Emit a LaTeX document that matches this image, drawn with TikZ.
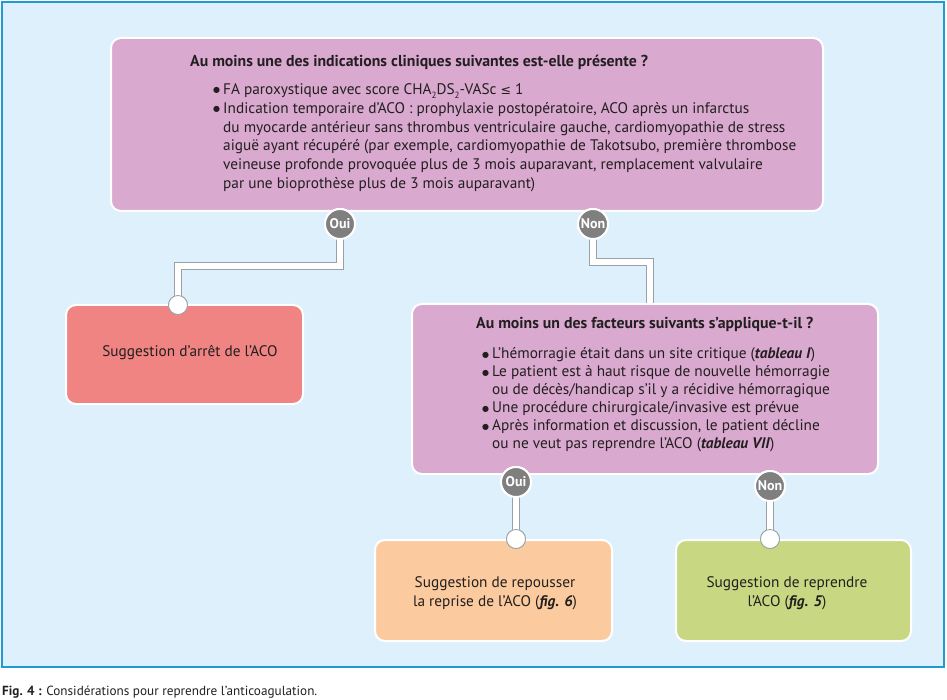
\documentclass[tikz,border=0pt]{standalone}
\usepackage{fontspec}
\setmainfont{PT Sans}
\newfontfamily\symfont{DejaVu Sans}
\usetikzlibrary{calc}
\definecolor{bgblue}{HTML}{DEF0FC}
\definecolor{frameblue}{HTML}{1E9BD7}
\definecolor{purp}{HTML}{D9A9CF}
\definecolor{redbox}{HTML}{F08482}
\definecolor{orangebox}{HTML}{FBCB9F}
\definecolor{greenbox}{HTML}{C8D882}
\definecolor{circgray}{HTML}{7F7F7F}
\definecolor{conngray}{HTML}{9AA0A6}
\definecolor{txt}{HTML}{231F20}
\newcommand{\bul}{\makebox[10pt][l]{\raisebox{1.6pt}{\symfont\fontsize{8}{8}\selectfont ●}}}
\newcommand{\ind}{\hspace*{10pt}}
\newcommand{\sub}[1]{\raisebox{-3.5pt}{\fontsize{9}{9}\selectfont #1}}
\begin{document}
\begin{tikzpicture}[x=1pt,y=-1pt,
  box/.style={draw=white, line width=2pt, rounded corners=10pt, anchor=north west, inner sep=0pt},
  body/.style={font=\fontsize{15.3}{18.8}\selectfont, text=txt, inner sep=0pt},
  ttl/.style={font=\fontsize{15.8}{18}\selectfont\bfseries, text=txt, inner sep=0pt, anchor=base west},
  yn/.style={circle, fill=circgray, draw=white, line width=2pt, minimum size=30pt, inner sep=0pt, text=white, font=\fontsize{14}{14}\selectfont\bfseries},
  endc/.style={circle, fill=white, draw=conngray, line width=0.8pt, minimum size=19pt, inner sep=0pt},
  conn/.style={draw=conngray, line width=0.8pt, double=white, double distance=6pt}
]
\useasboundingbox (0,0) rectangle (947,700);
\draw[draw=frameblue, fill=bgblue, line width=2.5pt] (2,2) rectangle (944,667);

% boxes
\node[box, fill=purp, minimum width=712pt, minimum height=173pt] (q1) at (110,37) {};
\node[box, fill=redbox, minimum width=237pt, minimum height=99pt] (r1) at (65,304) {};
\node[box, fill=purp, minimum width=466pt, minimum height=170pt] (q2) at (411,303) {};
\node[box, fill=orangebox, minimum width=237pt, minimum height=101pt] (r2) at (374,539) {};
\node[box, fill=greenbox, minimum width=235pt, minimum height=101pt] (r3) at (675,539) {};

% texts box 1
\node[ttl] (t1) at (190,67)
  {Au moins une des indications cliniques suivantes est-elle présente~?};
\node[body, anchor=north west, align=left] (l1) at (213,83.5) {%
\bul FA paroxystique avec score CHA\sub{2}DS\sub{2}-VASc {\symfont\fontsize{12.5}{12}\selectfont ≤} 1\\
\bul Indication temporaire d’ACO : prophylaxie postopératoire, ACO après un infarctus\\
\ind du myocarde antérieur sans thrombus ventriculaire gauche, cardiomyopathie de stress\\
\ind aiguë ayant récupéré (par exemple, cardiomyopathie de Takotsubo, première thrombose\\
\ind veineuse profonde provoquée plus de 3 mois auparavant, remplacement valvulaire\\
\ind par une bioprothèse plus de 3 mois auparavant)};

% text box 2
\node[body] (t2) at (190,353) {Suggestion d’arrêt de l’ACO};

% texts box 3
\node[ttl] (t3) at (476,329)
  {Au moins un des facteurs suivants s’applique-t-il~?};
\node[body, font=\fontsize{15.3}{18}\selectfont, anchor=north west, align=left] (l3) at (482,347.5) {%
\bul L’hémorragie était dans un site critique (\textbf{\textit{tableau I}})\\
\bul Le patient est à haut risque de nouvelle hémorragie\\
\ind ou de décès/handicap s’il y a récidive hémorragique\\
\bul Une procédure chirurgicale/invasive est prévue\\
\bul Après information et discussion, le patient décline\\
\ind ou ne veut pas reprendre l’ACO (\textbf{\textit{tableau VII}})};

% texts box 4,5
\node[body, align=center, font=\fontsize{15.3}{19}\selectfont] (t4) at (495,593)
  {Suggestion de repousser\\la reprise de l’ACO (\textbf{\textit{fig. 6}})};
\node[body, align=center, font=\fontsize{15.3}{19}\selectfont] (t5) at (787,593)
  {Suggestion de reprendre\\l’ACO (\textbf{\textit{fig. 5}})};

% connector anchors
\coordinate (m1) at (178,266);
\coordinate (m2) at (650,262);
\node[endc] (e1) at (178,305) {};
\node[endc] (e4) at (516,539) {};
\node[endc] (e5) at (770,539) {};
\node[yn] (o1) at (340,224) {Oui};
\node[yn] (n1) at (593,224) {Non};
\node[yn] (o2) at (516,482) {Oui};
\node[yn] (n2) at (770,486) {Non};

% connectors
\draw[conn] (o1.center) |- (m1) -- (e1.center);
\draw[conn] (n1.center) |- (m2) -- (m2 |- q2.north);
\draw[conn] (o2.center) -- (e4.center);
\draw[conn] (n2.center) -- (e5.center);
% circles on top of connectors
\node[endc] at (e1) {};
\node[endc] at (e4) {};
\node[endc] at (e5) {};
\node[yn] at (o1) {Oui};
\node[yn] at (n1) {Non};
\node[yn] at (o2) {Oui};
\node[yn] at (n2) {Non};

% caption
\node[anchor=base west, inner sep=0pt, text=txt, font=\fontsize{13.2}{13}\selectfont] (cap) at (2,695)
  {\textbf{Fig. 4 :} Considérations pour reprendre l’anticoagulation.};
\end{tikzpicture}
\end{document}
